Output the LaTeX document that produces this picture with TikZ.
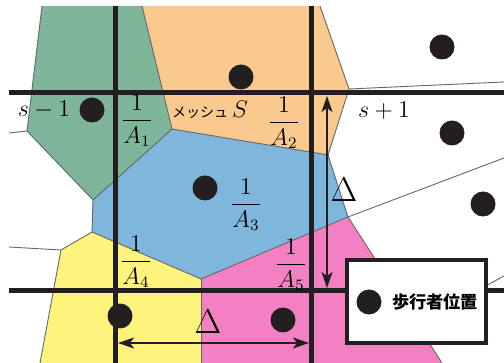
\documentclass[tikz,border=0pt]{standalone}
\usepackage{amsmath,amssymb}
\usepackage{fontspec}
\usepackage{tikz}
\usetikzlibrary{arrows.meta}
\newfontfamily\jpfont{Noto Sans CJK JP}
\definecolor{ink}{RGB}{35,31,32}
\definecolor{greencell}{RGB}{126,181,155}
\definecolor{orangecell}{RGB}{249,201,141}
\definecolor{bluecell}{RGB}{126,182,220}
\definecolor{yellowcell}{RGB}{253,243,125}
\definecolor{pinkcell}{RGB}{244,128,196}

\begin{document}
\begin{tikzpicture}[x=0.5pt,y=-0.5pt,
cellline/.style={draw=black!60,line width=0.45pt},
gridline/.style={draw=ink,line width=2.5pt},
dot/.style={circle,fill=ink,minimum size=12.5pt,inner sep=0pt},
lbl/.style={inner sep=0pt,font=\fontsize{12}{14}\selectfont},
dlt/.style={inner sep=0pt,font=\fontsize{16.5}{18}\selectfont},
arr/.style={{Stealth[length=8pt,width=5.5pt,inset=2pt]}-{Stealth[length=8pt,width=5.5pt,inset=2pt]},draw=ink,line width=0.75pt}]
\useasboundingbox (0,0) rectangle (504,363);
\fill[greencell] (42,6)--(142,6)--(172,129)--(93,200)--(27,131)--cycle;
\fill[orangecell] (142,6)--(320,6)--(349,89)--(328,155)--(172,129)--cycle;
\fill[bluecell] (172,129)--(328,155)--(348,217)--(201,279)--(92,232)--(93,200)--cycle;
\fill[yellowcell] (92,232)--(201,279)--(201,363)--(40,363)--(61,250)--cycle;
\fill[pinkcell] (201,279)--(348,217)--(442,363)--(201,363)--cycle;
\draw[cellline] (42,6)--(27,131)--(93,200);
\draw[cellline] (142,6)--(172,129)--(93,200)--(92,232)--(201,279)--(348,217)--(328,155)--(172,129);
\draw[cellline] (320,6)--(349,89)--(328,155);
\draw[cellline] (9,247)--(61,250)--(92,232);
\draw[cellline] (61,250)--(40,363);
\draw[cellline] (201,279)--(201,363);
\draw[cellline] (348,217)--(442,363);
\draw[cellline] (27,131)--(9,133);
\draw[cellline] (349,89)--(504,82);
\draw[cellline] (348,217)--(504,158);
\draw[cellline] (460,300)--(504,276);
\draw[gridline] (9,93)--(504,93);
\draw[gridline] (9,291)--(504,291);
\draw[gridline] (115,6)--(115,363);
\draw[gridline] (311,6)--(311,363);
\node[dot] (p1) at (92,110) {};
\node[dot] (p2) at (241,77) {};
\node[dot] (p3) at (205,188) {};
\node[dot] (p4) at (120,316) {};
\node[dot] (p5) at (283,320) {};
\node[dot] (q1) at (442,47) {};
\node[dot] (q2) at (452,133) {};
\node[dot] (q3) at (483,204) {};
\node[lbl] (sm) at (44,110) {$s-1$};
\node[lbl] (sp) at (384,111) {$s+1$};
\node[lbl] (mesh) at (210,110) {{\jpfont\fontsize{7}{8}\selectfont メッシュ}\,{\fontsize{12.5}{14}\selectfont$S$}};
\node[lbl] (a1) at (137,121) {$\dfrac{1}{A_1}$};
\node[lbl] (a2) at (284,123) {$\dfrac{1}{A_2}$};
\node[lbl] (a3) at (246,205) {$\dfrac{1}{A_3}$};
\node[lbl] (a4) at (136,262) {$\dfrac{1}{A_4}$};
\node[lbl] (a5) at (291,265) {$\dfrac{1}{A_5}$};
\node[dlt] (dv) at (344,190) {$\Delta$};
\node[dlt] (dh) at (208,322) {$\Delta$};
\coordinate (vt) at (327,96);
\coordinate (vb) at (327,288);
\coordinate (hl) at (118,343);
\coordinate (hr) at (309,343);
\draw[arr] (vt)--(vb);
\draw[arr] (hl)--(hr);
\node[draw=ink,line width=2pt,fill=white,minimum width=69.5pt,minimum height=41.5pt,inner sep=0pt] (key) at (416.5,301.5) {};
\node[dot] (kd) at (369,302) {};
\node[inner sep=0pt,font=\jpfont\bfseries\fontsize{8.6}{10}\selectfont] (kt) at (435,302) {歩行者位置};
\end{tikzpicture}
\end{document}
